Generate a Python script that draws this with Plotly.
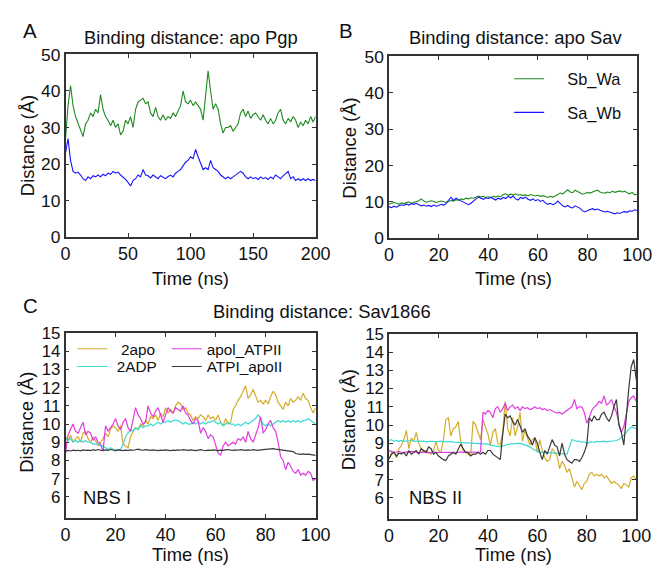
import plotly.graph_objects as go

# Reference frame (pixels of the target picture)
W0, H0 = 660, 567
# The page is photographed slightly reduced; draw at a matching larger size.
S = 675 / 660
W, H = round(W0 * S), round(H0 * S)

# ---------------- Data ----------------
# Panel A: apo Pgp (time step 2 ns)
time_a = list(range(0, 201, 2))
pgp_sb_wa = [27, 36, 41.5, 36, 33, 31, 29.5, 27.5, 31, 32, 34, 33, 35, 34, 39, 35, 33, 32, 30.5, 32,
             30, 31, 28, 29, 32, 31, 33, 30, 35, 37, 37.5, 38, 36.5, 37, 34, 33, 35.5, 33, 32, 33.5,
             32, 33, 32.5, 34, 33, 34.5, 36, 40, 37, 36.5, 37.5, 36, 37, 36, 35, 32, 39, 45.5, 40, 35,
             36.5, 35, 31, 28.5, 30, 30, 30.5, 29, 30, 31, 34, 35, 33, 34.5, 32.5, 33.5, 34, 33, 32, 33.5,
             32, 31, 32.5, 31, 32, 34, 35, 32, 31, 32.5, 31.5, 33, 32, 30, 31.5, 30.5, 32, 31, 33, 31.5, 33]
pgp_sa_wb = [23, 27, 21, 18, 17.5, 17.8, 17, 16, 15.5, 16.5, 16, 16.8, 16.5, 17, 16.5, 17.2, 16.8, 17.5, 17.2, 18,
             17.5, 17.8, 17, 16.5, 15.8, 15, 14, 15.5, 16, 17, 16.5, 18.5, 17, 16.8, 16.2, 17, 16.5, 16, 16.8, 16.3,
             16, 16.6, 17, 16.5, 17.5, 18, 18.5, 19.5, 20.5, 21, 22, 21.5, 24, 22, 20, 18.5, 19, 18.5, 21, 19,
             18.5, 18, 17, 16.5, 16, 16.5, 16, 16.5, 17, 17.5, 18, 17.5, 16.5, 16, 16.5, 16, 16.3, 15.8, 16.5, 16,
             16.3, 15.8, 16.5, 16, 17, 16.5, 16, 16.8, 17.5, 18, 16, 16.5, 15.5, 16, 15.5, 16, 15.5, 16, 15.5, 15.8, 15.5]

# Panel B: apo Sav (time step 1 ns)
time_b = list(range(0, 101))
sav_sb_wa = [9.4, 9.5, 9.8, 9.6, 9.3, 9.7, 9.5, 9.8, 10, 9.6, 9.8, 10.1, 10.3, 10.8, 10.2, 9.9, 10, 10.3, 10.1, 9.8,
             10, 10.2, 10, 9.8, 10.1, 10.4, 10.2, 10.6, 10.4, 10.8, 10.6, 11, 10.8, 11.1, 11, 11.4, 11.6, 11.3, 11.5, 11.2,
             11.4, 11.2, 11.5, 11.3, 11.6, 11.4, 12, 12.2, 11.8, 12.1, 11.9, 12.2, 11.8, 12, 11.7, 11.9, 11.6, 12, 11.8, 11.6,
             11.8, 11.5, 11.7, 11.4, 11.2, 11.5, 11.3, 11.6, 12.1, 12.4, 12.2, 12.8, 13.3, 12.7, 12.5, 13.2, 12.8, 12.4, 12.1, 12.3,
             12.6, 12.4, 12.8, 13, 13.2, 12.7, 12.5, 12.4, 12.7, 12.5, 12.9, 12.6, 12.8, 13, 12.7, 12.9, 12.5, 12.2, 12.6, 11.9, 12.1]
sav_sa_wb = [8.6, 8.4, 8.8, 8.5, 8.9, 9.2, 9, 9.4, 9.1, 9.5, 9.3, 9.6, 9.2, 8.9, 9.1, 8.8, 9, 8.7, 9.1, 8.8,
             9, 9.3, 9.1, 9.5, 10.5, 11.2, 10.4, 11, 10.6, 10.2, 10, 9.6, 9.2, 9.6, 10.3, 10.8, 11.3, 11, 10.7, 11.1,
             10.9, 11.2, 10.8, 10.5, 11, 10.7, 11.2, 10.9, 11.5, 11.1, 11.6, 10.8, 10.5, 11.2, 10.9, 11.3, 10.7, 10.4, 10.8, 10.3,
             10.6, 10.1, 10.4, 9.7, 9.3, 9.6, 9.2, 9.5, 10.2, 9.6, 8.9, 8.6, 9, 8.5, 8.3, 8.9, 8.6, 8.2, 7.5, 7.2,
             7.6, 7.9, 8.1, 7.8, 8, 7.7, 7.5, 7.2, 7.4, 7.1, 6.9, 6.7, 7, 6.8, 7.1, 7.3, 7.1, 7.5, 7.4, 7.8, 7.6]

# Panel C: Sav1866 NBS I (time step 1 ns)
time_c = list(range(0, 101))
nbs1_2apo = [9.3, 9.1, 9.4, 9.0, 9.2, 9.3, 9.0, 9.5, 9.6, 9.2, 9.0, 9.3, 9.1, 8.8, 9.0, 9.2, 9.5, 9.3, 9.7, 9.9,
             9.8, 9.6, 9.9, 8.9, 8.8, 8.7, 9.3, 9.6, 9.8, 9.7, 10.0, 9.9, 10.2, 10.0, 10.4, 10.3, 10.5, 10.2, 10.6, 10.4,
             10.9, 10.6, 10.8, 10.6, 11.0, 11.2, 11.1, 10.8, 10.9, 10.6, 10.5, 10.2, 10.4, 10.3, 10.5, 10.4, 10.2, 10.5, 10.3, 10.4,
             10.2, 10.5, 10.1, 9.9, 10.3, 10.0, 10.1, 10.8, 11.0, 11.3, 11.5, 11.8, 12.1, 11.4, 11.6, 11.9, 11.5, 11.2, 11.3, 11.1,
             11.3, 11.1, 11.5, 11.8, 11.6, 11.2, 11.0, 10.8, 11.2, 11.0, 11.4, 11.2, 11.3, 11.5, 11.3, 11.7, 11.4, 11.3, 10.9, 10.6, 10.9]
nbs1_2adp = [9.2, 9.1, 9.2, 9.0, 9.1, 9.0, 9.1, 9.0, 9.1, 9.0, 9.0, 8.9, 8.9, 8.9, 8.8, 8.8, 8.7, 8.6, 8.7, 8.6,
             8.5, 8.6, 8.6, 8.9, 9.3, 9.5, 9.7, 9.6, 9.8, 9.7, 9.9, 9.8, 9.9, 9.9, 10.0, 9.9, 10.0, 10.1, 10.0, 10.1,
             10.1, 10.2, 10.1, 10.2, 10.2, 10.2, 10.1, 10.0, 10.1, 10.0, 10.0, 10.1, 10.0, 10.1, 10.0, 10.1, 10.0, 10.1, 10.1, 10.2,
             10.1, 10.0, 10.1, 9.9, 10.0, 10.1, 10.0, 10.0, 9.9, 10.0, 9.9, 10.0, 10.1, 10.0, 10.1, 10.2, 10.3, 10.5, 10.3, 10.0,
             9.9, 10.0, 9.9, 10.0, 10.1, 10.2, 10.1, 10.2, 10.1, 10.2, 10.1, 10.2, 10.1, 10.2, 10.1, 10.2, 10.2, 10.3, 10.2, 10.1, 10.0]
nbs1_apoI_ATPII = [8.4, 9.4, 9.7, 10.0, 9.6, 9.5, 9.8, 10.1, 9.4, 9.6, 9.5, 9.1, 9.3, 9.0, 8.9, 8.5, 9.9, 9.6, 9.8, 10.0,
                   10.3, 9.9, 9.7, 10.1, 10.3, 9.8, 9.6, 10.2, 10.9, 10.5, 10.3, 10.0, 10.1, 11.0, 10.6, 10.4, 10.7, 10.9, 10.5, 10.1,
                   10.5, 10.9, 10.7, 10.6, 10.9, 10.8, 10.7, 11.0, 10.6, 10.5, 10.2, 10.0, 10.3, 10.2, 9.5, 9.8, 9.6, 9.2, 9.4, 9.3,
                   8.8, 8.4, 8.3, 8.8, 9.0, 8.8, 8.9, 9.0, 8.9, 9.2, 9.1, 9.3, 9.0, 9.6, 9.2, 9.0, 9.4, 9.8, 10.4, 9.5,
                   9.7, 10.0, 10.2, 9.8, 9.6, 9.0, 8.2, 8.0, 7.5, 7.9, 7.7, 7.4, 7.3, 7.5, 7.2, 7.3, 7.2, 7.4, 7.3, 6.9, 7.0]
nbs1_ATPI_apoII = [8.50, 8.55, 8.52, 8.57, 8.54, 8.56, 8.53, 8.58, 8.55, 8.57, 8.54, 8.59, 8.56, 8.60, 8.57, 8.55, 8.58, 8.56, 8.60, 8.57,
                   8.55, 8.58, 8.56, 8.54, 8.57, 8.55, 8.58, 8.56, 8.59, 8.62, 8.58, 8.56, 8.59, 8.57, 8.55, 8.58, 8.56, 8.54, 8.57, 8.55,
                   8.58, 8.56, 8.54, 8.57, 8.55, 8.58, 8.56, 8.59, 8.57, 8.55, 8.58, 8.56, 8.54, 8.57, 8.59, 8.56, 8.54, 8.57, 8.55, 8.58,
                   8.56, 8.54, 8.57, 8.55, 8.58, 8.60, 8.57, 8.55, 8.58, 8.56, 8.59, 8.57, 8.55, 8.58, 8.56, 8.59, 8.57, 8.55, 8.58, 8.60,
                   8.58, 8.61, 8.63, 8.65, 8.62, 8.60, 8.57, 8.55, 8.52, 8.50, 8.47, 8.49, 8.38, 8.35, 8.34, 8.36, 8.33, 8.35, 8.32, 8.30, 8.28]

# Panel D: Sav1866 NBS II (time step 1 ns)
time_d = list(range(0, 101))
nbs2_2apo = [8.1, 8.5, 8.5, 8.2, 8.7, 8.9, 9.2, 9.7, 8.7, 9.3, 9.1, 9.6, 9.0, 8.7, 8.5, 8.6, 8.5, 8.4, 8.6, 9.1,
             8.6, 8.5, 9.2, 10.3, 10.4, 9.4, 9.8, 9.9, 10.2, 9.1, 8.6, 8.5, 8.4, 8.3, 10.2, 10.0, 9.6, 9.2, 10.3, 9.9,
             9.5, 8.9, 9.6, 9.8, 9.0, 8.9, 9.6, 11.3, 9.8, 9.4, 10.4, 9.4, 9.9, 10.7, 9.1, 9.7, 9.3, 8.9, 9.2, 9.3,
             8.5, 9.2, 8.6, 8.2, 8.0, 8.1, 8.7, 8.5, 8.3, 7.6, 8.0, 7.8, 7.4, 7.6, 7.1, 6.6, 6.9, 6.7, 6.45, 6.8,
             6.9, 7.3, 7.4, 7.2, 7.3, 7.2, 7.3, 7.1, 7.2, 7.0, 6.8, 6.9, 6.8, 6.7, 6.5, 6.8, 6.7, 6.6, 7.1, 7.2, 7.0]
nbs2_2adp = [9.15, 9.2, 9.1, 9.15, 9.1, 9.15, 9.1, 9.12, 9.1, 9.15, 9.12, 9.1, 9.13, 9.1, 9.12, 9.08, 9.1, 9.12, 9.1, 9.08,
             9.1, 9.12, 9.08, 9.1, 9.07, 9.1, 9.06, 9.05, 9.07, 9.04, 9.05, 9.02, 9.03, 9.0, 9.02, 8.99, 9.0, 8.98, 8.97, 8.96,
             8.95, 8.9, 8.88, 8.85, 8.82, 8.8, 8.85, 8.9, 8.92, 8.95, 8.97, 8.98, 9.0, 9.0, 8.95, 8.9, 8.82, 8.8, 8.7, 8.6,
             8.55, 8.5, 8.52, 8.5, 8.48, 8.47, 8.45, 8.42, 8.4, 8.42, 8.4, 8.41, 8.4, 8.8, 9.2, 9.15, 9.1, 9.12, 9.05, 9.08,
             9.0, 9.05, 9.08, 9.05, 9.1, 9.08, 9.1, 9.12, 9.08, 9.1, 9.12, 9.1, 9.15, 9.2, 9.3, 9.45, 9.6, 9.75, 9.9, 9.85, 9.8]
nbs2_apoI_ATPII = [8.6, 8.55, 8.5, 8.52, 8.55, 8.5, 8.48, 8.52, 8.5, 8.55, 8.52, 8.5, 8.48, 8.5, 8.53, 8.5, 8.47, 8.5, 8.52, 8.49,
                   8.5, 8.47, 8.5, 8.52, 8.5, 8.48, 8.5, 8.47, 8.5, 8.52, 8.5, 8.48, 8.5, 8.52, 8.5, 8.48, 8.5, 8.52, 10.7, 10.6,
                   10.8, 10.7, 10.4, 10.9, 11.0, 10.7, 10.9, 11.2, 10.8, 11.0, 11.1, 10.9, 11.0, 10.8, 11.0, 10.9, 10.95, 10.85, 10.9, 11.0,
                   10.9, 10.95, 10.85, 10.9, 10.8, 10.85, 10.75, 10.7, 10.65, 10.7, 10.6, 10.7, 10.8, 10.9, 11.0, 11.4, 10.9, 11.0, 11.0, 10.7,
                   10.1, 10.4, 10.8, 11.0, 11.1, 11.3, 11.2, 11.6, 11.1, 11.2, 11.4, 11.0, 10.7, 10.1, 9.6, 9.9, 10.6, 11.3, 11.5, 11.6, 11.3]
nbs2_ATPI_apoII = [8.15, 8.4, 8.5, 8.3, 8.45, 8.4, 8.5, 8.3, 8.6, 8.4, 8.5, 8.6, 8.4, 8.7, 8.6, 8.5, 8.8, 8.7, 8.4, 8.5,
                   8.3, 8.2, 8.1, 8.05, 8.3, 8.4, 8.5, 8.4, 8.7, 8.95, 8.7, 8.5, 8.5, 8.3, 8.4, 8.4, 8.5, 8.4, 8.5, 8.4,
                   8.6, 8.6, 8.4, 8.3, 8.2, 8.1, 9.5, 10.6, 10.4, 10.5, 10.2, 10.0, 10.3, 9.9, 9.6, 9.8, 9.4, 9.2, 8.9, 9.3,
                   9.0, 8.5, 8.1, 8.6, 8.4, 8.8, 9.2, 8.9, 8.8, 8.3, 9.0, 8.4, 8.1, 8.0, 7.9, 8.1, 8.1, 8.0, 8.2, 8.5,
                   8.9, 10.4, 10.2, 10.5, 10.3, 10.3, 10.6, 10.7, 10.4, 10.2, 10.5, 11.0, 11.4, 10.0, 9.6, 8.9, 10.5, 12.0, 13.2, 13.6, 12.5]

top_ticks_a = [0, 50, 100, 150, 200]
top_ticks_b = [0, 20, 40, 60, 80, 100]
dist_ticks_top = [0, 10, 20, 30, 40, 50]
dist_ticks_bottom = [6, 7, 8, 9, 10, 11, 12, 13, 14, 15]

# ---------------- Styling ----------------
FONT = "Liberation Sans, Arial, Helvetica, sans-serif"
GREEN = "#1f8a1f"
BLUE = "#1414ff"
GOLD = "#d4ac2c"
CYAN = "#3dd9d6"
MAGENTA = "#e23be2"
BLACK = "#3a3a3a"
NB = "\u00a0"


def fs(v):
    return v * S


def px_dom_x(a, b):
    return [a / W0, b / W0]


def px_dom_y(top, bottom):
    return [1 - bottom / H0, 1 - top / H0]


fig = go.Figure()

# Panel A
fig.add_trace(go.Scatter(x=time_a, y=pgp_sb_wa, mode="lines", line=dict(color=GREEN, width=1.1),
                         xaxis="x", yaxis="y", showlegend=False))
fig.add_trace(go.Scatter(x=time_a, y=pgp_sa_wb, mode="lines", line=dict(color=BLUE, width=1.1),
                         xaxis="x", yaxis="y", showlegend=False))
# Panel B
fig.add_trace(go.Scatter(x=time_b, y=sav_sb_wa, mode="lines", line=dict(color=GREEN, width=1.1),
                         xaxis="x2", yaxis="y2", name=NB * 4 + "Sb_Wa", legend="legend"))
fig.add_trace(go.Scatter(x=time_b, y=sav_sa_wb, mode="lines", line=dict(color=BLUE, width=1.1),
                         xaxis="x2", yaxis="y2", name=NB * 4 + "Sa_Wb", legend="legend2"))
# Panel C
fig.add_trace(go.Scatter(x=time_c, y=nbs1_2apo, mode="lines", line=dict(color=GOLD, width=1.2),
                         xaxis="x3", yaxis="y3", name=NB * 2 + "2apo", legend="legend3"))
fig.add_trace(go.Scatter(x=time_c, y=nbs1_2adp, mode="lines", line=dict(color=CYAN, width=1.2),
                         xaxis="x3", yaxis="y3", name=NB + "2ADP", legend="legend4"))
fig.add_trace(go.Scatter(x=time_c, y=nbs1_apoI_ATPII, mode="lines", line=dict(color=MAGENTA, width=1.2),
                         xaxis="x3", yaxis="y3", name="apol_ATPII", legend="legend5"))
fig.add_trace(go.Scatter(x=time_c, y=nbs1_ATPI_apoII, mode="lines", line=dict(color=BLACK, width=1.2),
                         xaxis="x3", yaxis="y3", name="ATPI_apoII", legend="legend6"))
# Panel D
for ys, col in [(nbs2_2apo, GOLD), (nbs2_2adp, CYAN), (nbs2_apoI_ATPII, MAGENTA), (nbs2_ATPI_apoII, BLACK)]:
    fig.add_trace(go.Scatter(x=time_d, y=ys, mode="lines", line=dict(color=col, width=1.2),
                             xaxis="x4", yaxis="y4", showlegend=False))

axis_common = dict(showline=True, linecolor="#333333", linewidth=1.5, mirror="ticks",
                   ticks="inside", ticklen=4, tickwidth=1, tickcolor="#333333",
                   showgrid=False, zeroline=False,
                   tickfont=dict(family=FONT, size=fs(17), color="#111111"))

xa = dict(axis_common, ticklabelstandoff=0, tickfont=dict(family=FONT, size=fs(17.5), color="#111111"))
yb = dict(axis_common, tickfont=dict(family=FONT, size=fs(16.5), color="#111111"))


def leg(x_px, y_px, size):
    return dict(x=x_px / W0, y=1 - y_px / H0, xanchor="left", yanchor="middle",
                bgcolor="rgba(0,0,0,0)", borderwidth=0, itemwidth=30,
                font=dict(family=FONT, size=fs(size), color="#111111"))


fig.update_layout(
    width=W, height=H, margin=dict(l=0, r=0, t=0, b=0),
    paper_bgcolor="white", plot_bgcolor="white",
    font=dict(family=FONT, color="#111111"),
    xaxis=dict(xa, domain=px_dom_x(61, 313), range=[0, 200], tickvals=top_ticks_a, anchor="y"),
    yaxis=dict(axis_common, domain=px_dom_y(45, 230), range=[0, 50], tickvals=dist_ticks_top, anchor="x"),
    xaxis2=dict(xa, domain=px_dom_x(387, 637), range=[0, 100], tickvals=top_ticks_b, anchor="y2"),
    yaxis2=dict(axis_common, domain=px_dom_y(47, 231), range=[0, 50], tickvals=dist_ticks_top, anchor="x2"),
    xaxis3=dict(xa, domain=px_dom_x(61, 313), range=[0, 100], tickvals=top_ticks_b, anchor="y3"),
    yaxis3=dict(yb, domain=px_dom_y(327, 514), range=[4.86, 15], tickvals=dist_ticks_bottom, anchor="x3"),
    xaxis4=dict(xa, domain=px_dom_x(387, 636), range=[0, 100], tickvals=top_ticks_b, anchor="y4"),
    yaxis4=dict(yb, domain=px_dom_y(328, 515), range=[4.86, 15], tickvals=dist_ticks_bottom, anchor="x4"),
    legend=leg(508, 70, 16),
    legend2=leg(508, 104, 16),
    legend3=leg(68, 343, 15),
    legend4=leg(68, 361, 15),
    legend5=leg(163, 343, 15),
    legend6=leg(163, 361, 15),
)


def ann(text, x, y, size, xanchor="center", yanchor="middle", angle=0):
    fig.add_annotation(text=text, x=x / W0, y=1 - y / H0, xref="paper", yref="paper",
                       xanchor=xanchor, yanchor=yanchor, showarrow=False, textangle=angle,
                       font=dict(family=FONT, size=fs(size), color="#111111"))


# Panel titles and letters
ann("Binding distance: apo Pgp", 187, 28, 18)
ann("Binding distance: apo Sav", 514, 28, 18)
ann("Binding distance: Sav1866", 319, 305, 18)
ann("A", 25, 21, 20)
ann("B", 344, 21, 20)
ann("C", 26, 299, 20)
# Axis titles
ann("Time (ns)", 187, 272, 18)
ann("Time (ns)", 512, 272, 18)
ann("Time (ns)", 187, 551, 18)
ann("Time (ns)", 512, 551, 18)
ann("Distance (Å)", 22, 137, 18, angle=-90)
ann("Distance (Å)", 347, 140, 18, angle=-90)
ann("Distance (Å)", 22, 417, 18, angle=-90)
ann("Distance (Å)", 347, 415, 18, angle=-90)
# Inset labels
ann("NBS I", 77, 494, 18, xanchor="left")
ann("NBS II", 405, 494, 18, xanchor="left")

fig.write_html("out.html")
